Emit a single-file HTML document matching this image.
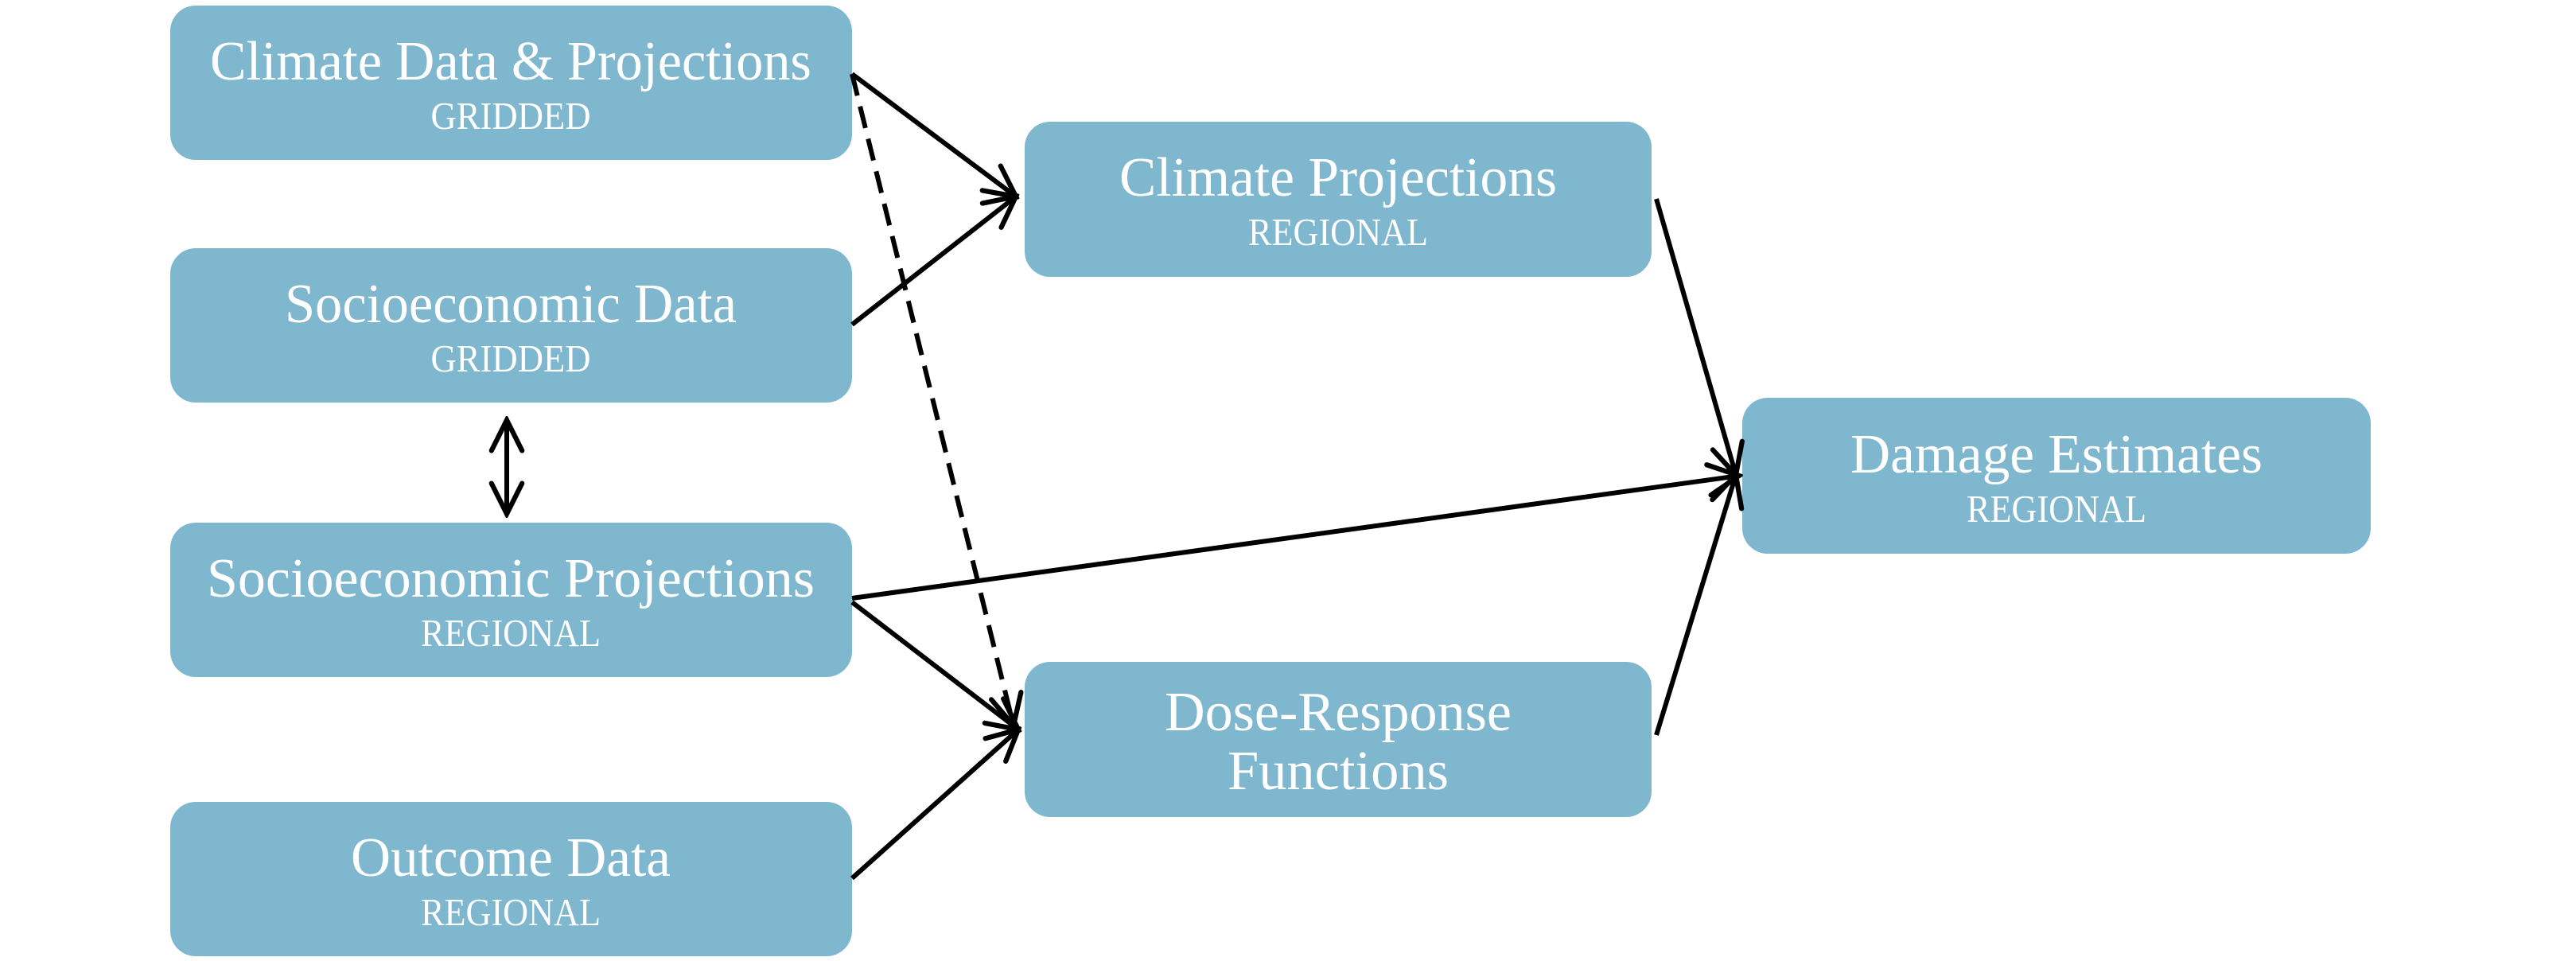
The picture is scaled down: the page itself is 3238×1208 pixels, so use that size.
<!DOCTYPE html>
<html><head><meta charset="utf-8"><style>html,body{margin:0;padding:0;background:#fff}svg{display:block}</style></head>
<body>
<svg width="3238" height="1208" viewBox="0 0 3238 1208" xmlns="http://www.w3.org/2000/svg">
<defs>
<marker id="a" viewBox="0 0 20 20" refX="18" refY="10" markerWidth="8" markerHeight="8" markerUnits="strokeWidth" orient="auto-start-reverse">
<polyline points="2,2 18,10 2,18" fill="none" stroke="#000" stroke-width="2.6" stroke-linecap="round"/>
</marker>
</defs>
<g fill="#7fb7ce">
<rect x="214" y="7" width="857" height="194" rx="32"/>
<rect x="214" y="312" width="857" height="194" rx="32"/>
<rect x="214" y="657" width="857" height="194" rx="32"/>
<rect x="214" y="1008" width="857" height="194" rx="32"/>
<rect x="1288" y="153" width="788" height="195" rx="32"/>
<rect x="1288" y="832" width="788" height="195" rx="32"/>
<rect x="2190" y="500" width="790" height="196" rx="32"/>
</g>
<g font-family="'Liberation Serif', serif" fill="#fff" text-anchor="middle">
<text x="642" y="100" font-size="70" textLength="756" lengthAdjust="spacingAndGlyphs">Climate Data &amp; Projections</text>
<text x="642" y="162" font-size="49" textLength="201" lengthAdjust="spacingAndGlyphs">GRIDDED</text>
<text x="642" y="405" font-size="70" textLength="568" lengthAdjust="spacingAndGlyphs">Socioeconomic Data</text>
<text x="642" y="467" font-size="49" textLength="201" lengthAdjust="spacingAndGlyphs">GRIDDED</text>
<text x="642" y="750" font-size="70" textLength="764" lengthAdjust="spacingAndGlyphs">Socioeconomic Projections</text>
<text x="642" y="812" font-size="49" textLength="226" lengthAdjust="spacingAndGlyphs">REGIONAL</text>
<text x="642" y="1101" font-size="70" textLength="402" lengthAdjust="spacingAndGlyphs">Outcome Data</text>
<text x="642" y="1163" font-size="49" textLength="226" lengthAdjust="spacingAndGlyphs">REGIONAL</text>
<text x="1682" y="246" font-size="70" textLength="550" lengthAdjust="spacingAndGlyphs">Climate Projections</text>
<text x="1682" y="308" font-size="49" textLength="226" lengthAdjust="spacingAndGlyphs">REGIONAL</text>
<text x="1682" y="918" font-size="70" textLength="436" lengthAdjust="spacingAndGlyphs">Dose-Response</text>
<text x="1682" y="992" font-size="70" textLength="278" lengthAdjust="spacingAndGlyphs">Functions</text>
<text x="2585" y="594" font-size="70" textLength="518" lengthAdjust="spacingAndGlyphs">Damage Estimates</text>
<text x="2585" y="656" font-size="49" textLength="226" lengthAdjust="spacingAndGlyphs">REGIONAL</text>
</g>
<g stroke="#000" stroke-width="6" fill="none" marker-end="url(#a)">
<line x1="1071" y1="93" x2="1277" y2="247"/>
<line x1="1071" y1="408" x2="1277" y2="247"/>
<line x1="1071" y1="93" x2="1274" y2="912" stroke-dasharray="28,14"/>
<line x1="1071" y1="752" x2="2186" y2="598"/>
<line x1="1071" y1="757" x2="1280" y2="917"/>
<line x1="1071" y1="1104" x2="1280" y2="917"/>
<line x1="2082" y1="250" x2="2182" y2="597"/>
<line x1="2082" y1="924" x2="2182" y2="597"/>
<line x1="637" y1="528" x2="637" y2="646" marker-start="url(#a)"/>
</g>
</svg>
</body></html>
